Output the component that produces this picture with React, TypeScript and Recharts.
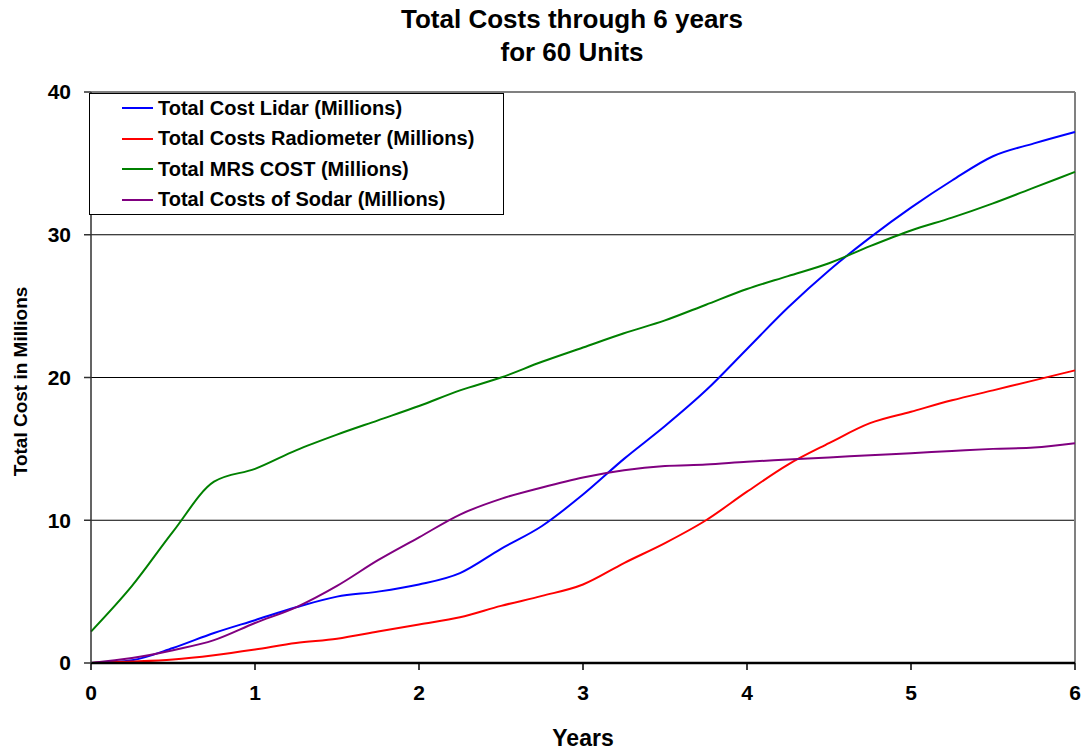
import React from 'react'
import { LineChart, Line, XAxis, YAxis, CartesianGrid, ReferenceLine, Label } from 'recharts'

// quarter-year steps
const years = [0, 0.25, 0.5, 0.75, 1, 1.25, 1.5, 1.75, 2, 2.25, 2.5, 2.75, 3, 3.25, 3.5, 3.75, 4, 4.25, 4.5, 4.75, 5, 5.25, 5.5, 5.75, 6]

const lidar = [0, 0.2, 1.05, 2.1, 3.0, 3.9, 4.65, 5.0, 5.5, 6.3, 8.0, 9.6, 11.8, 14.3, 16.6, 19.1, 22.0, 24.9, 27.5, 29.8, 31.9, 33.8, 35.5, 36.4, 37.2]
const radiometer = [0, 0.1, 0.25, 0.55, 0.95, 1.4, 1.7, 2.2, 2.7, 3.2, 4.0, 4.7, 5.5, 7.0, 8.4, 10.0, 12.0, 13.9, 15.4, 16.8, 17.6, 18.4, 19.1, 19.8, 20.5]
const mrs = [2.2, 5.4, 9.2, 12.7, 13.6, 14.9, 16.0, 17.0, 18.0, 19.1, 20.0, 21.1, 22.1, 23.1, 24.0, 25.1, 26.2, 27.1, 28.0, 29.2, 30.3, 31.2, 32.2, 33.3, 34.4]
const sodar = [0, 0.35, 0.9, 1.6, 2.8, 3.9, 5.4, 7.2, 8.8, 10.4, 11.5, 12.3, 13.0, 13.5, 13.8, 13.9, 14.1, 14.25, 14.4, 14.55, 14.7, 14.85, 15.0, 15.1, 15.4]

const yearTicks = [0, 1, 2, 3, 4, 5, 6]
const costTicks = [0, 10, 20, 30, 40]

const series = [
  { key: 'lidar', name: 'Total Cost Lidar (Millions)', color: '#0000ff' },
  { key: 'radiometer', name: 'Total Costs Radiometer (Millions)', color: '#ff0000' },
  { key: 'mrs', name: 'Total MRS COST (Millions)', color: '#008000' },
  { key: 'sodar', name: 'Total Costs of Sodar (Millions)', color: '#800080' },
]

const data = years.map((year, i) => ({
  year,
  lidar: lidar[i],
  radiometer: radiometer[i],
  mrs: mrs[i],
  sodar: sodar[i],
}))

const font = '"Liberation Sans", Arial, sans-serif'
const tickStyle = { fontSize: 21, fontWeight: 700, fill: '#000', fontFamily: font }

export default function App() {
  return (
    <div style={{ position: 'absolute', left: 0, top: 0, width: 1085, height: 750, background: '#fff', fontFamily: font }}>
      <div
        style={{
          position: 'absolute', left: 322, top: 3, width: 500, textAlign: 'center',
          fontSize: 26, fontWeight: 700, lineHeight: '33px', color: '#000',
        }}
      >
        Total Costs through 6 years
        <br />
        for 60 Units
      </div>

      <LineChart width={1085} height={750} data={data} margin={{ top: 92, right: 10, bottom: 0, left: 0 }}>
        <CartesianGrid vertical={false} stroke="#000" strokeWidth={1.2} />
        <ReferenceLine y={40} stroke="#808080" strokeWidth={2} />
        <ReferenceLine x={6} stroke="#808080" strokeWidth={2} />
        <XAxis
          dataKey="year"
          type="number"
          domain={[0, 6]}
          ticks={yearTicks}
          height={87}
          tickSize={7}
          tickMargin={15}
          tick={tickStyle}
          axisLine={{ stroke: '#000', strokeWidth: 2.5 }}
          tickLine={{ stroke: '#000', strokeWidth: 1.5 }}
        >
          <Label value="Years" position="center" dy={31} style={{ fontSize: 23, fontWeight: 700, fill: '#000', fontFamily: font }} />
        </XAxis>
        <YAxis
          type="number"
          domain={[0, 40]}
          ticks={costTicks}
          width={91}
          tickSize={7}
          tickMargin={13}
          tick={tickStyle}
          axisLine={{ stroke: '#303030', strokeWidth: 1.5 }}
          tickLine={{ stroke: '#303030', strokeWidth: 1.5 }}
        >
          <Label value="Total Cost in Millions" position="center" angle={-90} dx={-25} dy={4} style={{ fontSize: 19, fontWeight: 700, fill: '#000', fontFamily: font }} />
        </YAxis>
        {series.map((s) => (
          <Line
            key={s.key}
            type="monotone"
            dataKey={s.key}
            name={s.name}
            stroke={s.color}
            strokeWidth={2}
            dot={false}
            isAnimationActive={false}
          />
        ))}
      </LineChart>

      <div
        style={{
          position: 'absolute', left: 89, top: 93, width: 413, height: 120,
          border: '1px solid #000', background: '#fff', boxSizing: 'content-box',
        }}
      >
        {series.map((s, i) => (
          <div key={s.key} style={{ position: 'absolute', left: 32, top: 0 + i * 30.5, height: 28, display: 'flex', alignItems: 'center' }}>
            <span style={{ display: 'inline-block', width: 31, height: 2, background: s.color, marginRight: 5 }} />
            <span style={{ fontSize: 20, fontWeight: 700, color: '#000', whiteSpace: 'nowrap' }}>{s.name}</span>
          </div>
        ))}
      </div>
    </div>
  )
}
